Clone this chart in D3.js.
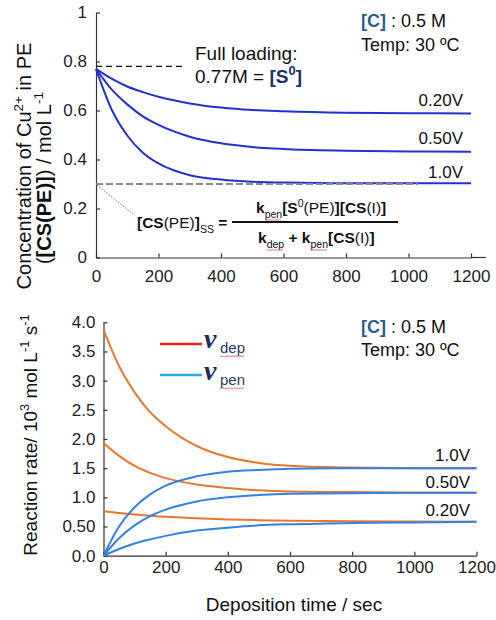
<!DOCTYPE html>
<html>
<head>
<meta charset="utf-8">
<script src="https://cdn.jsdelivr.net/npm/d3@7"></script>
<style>
  body { margin: 0; background: #fff; }
  svg { font-family: "Liberation Sans", Arial, Helvetica, sans-serif; }
  .axis .domain, .axis line { stroke: #333; stroke-width: 1.2; }
  .axis text { fill: #222; font-size: 17px; font-family: "Liberation Sans", Arial, sans-serif; }
</style>
</head>
<body>
<svg id="chart" width="496" height="620"></svg>
<script>
const times = [0, 50, 100, 150, 200, 300, 400, 500, 600, 800, 1000, 1200];
const voltages = ["0.20V", "0.50V", "1.0V"];

// top: [CS(PE)] / mol L-1
const conc020 = [0.77, 0.730, 0.698, 0.675, 0.656, 0.629, 0.612, 0.602, 0.597, 0.591, 0.589, 0.588];
const conc050 = [0.77, 0.686, 0.625, 0.576, 0.541, 0.493, 0.466, 0.451, 0.443, 0.436, 0.433, 0.432];
const conc100 = [0.77, 0.604, 0.498, 0.428, 0.384, 0.336, 0.318, 0.309, 0.306, 0.303, 0.303, 0.303];

// bottom: rates / 10^3 mol L-1 s-1
const dep020 = [0.76, 0.73, 0.705, 0.684, 0.667, 0.64, 0.622, 0.609, 0.60, 0.59, 0.585, 0.582];
const dep050 = [1.93, 1.71, 1.54, 1.42, 1.33, 1.22, 1.16, 1.12, 1.10, 1.09, 1.08, 1.08];
const dep100 = [3.87, 3.25, 2.80, 2.46, 2.22, 1.88, 1.69, 1.59, 1.54, 1.51, 1.50, 1.50];
const pen020 = [0, 0.115, 0.21, 0.28, 0.34, 0.43, 0.48, 0.52, 0.54, 0.56, 0.57, 0.58];
const pen050 = [0, 0.30, 0.52, 0.68, 0.79, 0.93, 1.00, 1.04, 1.06, 1.07, 1.08, 1.08];
const pen100 = [0, 0.50, 0.83, 1.05, 1.20, 1.36, 1.44, 1.47, 1.49, 1.50, 1.50, 1.50];

const xTicks = [0, 200, 400, 600, 800, 1000, 1200];
const yTicksTop = [0, 0.2, 0.4, 0.6, 0.8, 1];
const yLabelsTop = ["0", "0.2", "0.4", "0.6", "0.8", "1"];
const yTicksBot = [0, 0.5, 1, 1.5, 2, 2.5, 3, 3.5, 4];
const yLabelsBot = ["0.0", "0.50", "1.0", "1.5", "2.0", "2.5", "3.0", "3.5", "4.0"];

const fullLoading = 0.78;
const ssLevel = 0.30;

const svg = d3.select("#chart");
const squiggles = [];

// text with bold / sub / sup pieces
function rich(sel, x, y, size, parts, anchor = "start") {
  const text = sel.append("text").attr("x", x).attr("y", y)
    .style("font-size", size + "px").attr("text-anchor", anchor).style("fill", "#111");
  let shift = 0;
  parts.forEach(p => {
    const target = p.sub ? size * 0.3 : p.sup ? -size * 0.4 : 0;
    const ts = text.append("tspan").text(p.t).attr("dy", target - shift);
    shift = target;
    if (p.sub || p.sup) ts.style("font-size", (size * 0.68) + "px");
    if (p.b) ts.style("font-weight", "bold");
    if (p.fill) ts.style("fill", p.fill);
    if (p.sq) squiggles.push(ts.node());
  });
  return text;
}

// ---------- top panel ----------
const x1 = d3.scaleLinear().domain([0, 1200]).range([96, 471]);
const y1 = d3.scaleLinear().domain([0, 1]).range([257.5, 12.5]);

svg.append("g").attr("class", "axis")
  .attr("transform", `translate(0,${y1(0)})`)
  .call(d3.axisBottom(x1).tickValues(xTicks).tickFormat(d3.format("d"))
    .tickSizeInner(-4).tickSizeOuter(0).tickPadding(12));
svg.append("line").attr("x1", x1(1200)).attr("x2", 486).attr("y1", y1(0)).attr("y2", y1(0))
  .attr("stroke", "#333").attr("stroke-width", 1.2);
svg.append("g").attr("class", "axis")
  .attr("transform", `translate(${x1(0)},0)`)
  .call(d3.axisLeft(y1).tickValues(yTicksTop).tickFormat((d, i) => yLabelsTop[i])
    .tickSizeInner(-4).tickSizeOuter(0).tickPadding(9));

const lineTop = d3.line().x((d, i) => x1(times[i])).y(d => y1(d)).curve(d3.curveMonotoneX);
[conc020, conc050, conc100].forEach(s => {
  svg.append("path").attr("d", lineTop(s)).attr("fill", "none")
    .attr("stroke", "#2431d0").attr("stroke-width", 2);
});

// reference lines
svg.append("line").attr("x1", x1(0)).attr("x2", x1(280)).attr("y1", y1(fullLoading)).attr("y2", y1(fullLoading))
  .attr("stroke", "#111").attr("stroke-width", 1.3).attr("stroke-dasharray", "6,4");
svg.append("line").attr("x1", x1(0)).attr("x2", x1(1030)).attr("y1", y1(ssLevel)).attr("y2", y1(ssLevel))
  .attr("stroke", "#8a8a8a").attr("stroke-width", 1.8).attr("stroke-dasharray", "7,3");
svg.append("line").attr("x1", x1(0) + 1).attr("x2", 133).attr("y1", y1(ssLevel) + 1).attr("y2", 214)
  .attr("stroke", "#777").attr("stroke-width", 1).attr("stroke-dasharray", "1.5,1.5");

// curve labels
const topLabelY = [106, 144, 178];
voltages.forEach((v, i) => {
  svg.append("text").attr("x", 463).attr("y", topLabelY[i]).attr("text-anchor", "end")
    .style("font-size", "17px").style("fill", "#111").text(v);
});

rich(svg, 195, 60, 19, [{ t: "Full loading:" }]);
rich(svg, 195, 83, 19, [{ t: "0.77M = " }, { t: "[S", b: true, fill: "#1b2f6e" }, { t: "0", sup: true, b: true, fill: "#1b2f6e" }, { t: "]", b: true, fill: "#1b2f6e" }]);
rich(svg, 361, 27, 18, [{ t: "[C]", b: true, fill: "#2b5d8c" }, { t: " : 0.5 M" }]);
rich(svg, 361, 51, 18, [{ t: "Temp: 30 \u00BAC" }]);

// steady state formula
rich(svg, 137, 228, 15.5, [{ t: "[CS", b: true }, { t: "(PE)" }, { t: "]", b: true }, { t: "SS", sub: true }, { t: " =", b: true }]);
svg.append("line").attr("x1", 232).attr("x2", 398).attr("y1", 222).attr("y2", 222)
  .attr("stroke", "#111").attr("stroke-width", 2);
rich(svg, 256, 213, 15.5, [{ t: "k", b: true }, { t: "pen", sub: true, sq: true }, { t: "[S", b: true }, { t: "0", sup: true },
  { t: "(PE)" }, { t: "][CS", b: true }, { t: "(I)" }, { t: "]", b: true }]);
rich(svg, 258, 243, 15.5, [{ t: "k", b: true }, { t: "dep", sub: true, sq: true }, { t: " + k", b: true }, { t: "pen", sub: true, sq: true },
  { t: "[CS", b: true }, { t: "(I)" }, { t: "]", b: true }]);

// y title top
const yt1 = svg.append("g").attr("transform", "translate(31,166) rotate(-90)");
rich(yt1, 0, 0, 20, [{ t: "Concentration of Cu" }, { t: "2+", sup: true }, { t: " in PE" }], "middle");
const yt2 = svg.append("g").attr("transform", "translate(51,178) rotate(-90)");
rich(yt2, 0, 0, 20, [{ t: "(" }, { t: "[CS(PE)]", b: true }, { t: ") / mol L" }, { t: "-1", sup: true }], "middle");

// ---------- bottom panel ----------
const x2 = d3.scaleLinear().domain([0, 1200]).range([103.5, 476.5]);
const y2 = d3.scaleLinear().domain([0, 4]).range([555.7, 322.3]);

svg.append("g").attr("class", "axis")
  .attr("transform", `translate(0,${y2(0)})`)
  .call(d3.axisBottom(x2).tickValues(xTicks).tickFormat(d3.format("d"))
    .tickSizeInner(-4).tickSizeOuter(0).tickPadding(5));
svg.append("g").attr("class", "axis")
  .attr("transform", `translate(${x2(0)},0)`)
  .call(d3.axisLeft(y2).tickValues(yTicksBot).tickFormat((d, i) => yLabelsBot[i])
    .tickSizeInner(-4).tickSizeOuter(0).tickPadding(8));

const lineBot = d3.line().x((d, i) => x2(times[i])).y(d => y2(d)).curve(d3.curveMonotoneX);
[dep020, dep050, dep100].forEach(s => {
  svg.append("path").attr("d", lineBot(s)).attr("fill", "none")
    .attr("stroke", "#e8782c").attr("stroke-width", 2);
});
[pen020, pen050, pen100].forEach(s => {
  svg.append("path").attr("d", lineBot(s)).attr("fill", "none")
    .attr("stroke", "#3580e6").attr("stroke-width", 2);
});

const botLabelY = [516, 488, 461];
voltages.forEach((v, i) => {
  svg.append("text").attr("x", 470).attr("y", botLabelY[i]).attr("text-anchor", "end")
    .style("font-size", "17px").style("fill", "#111").text(v);
});

rich(svg, 361, 333, 18, [{ t: "[C]", b: true, fill: "#2b5d8c" }, { t: " : 0.5 M" }]);
rich(svg, 361, 356, 18, [{ t: "Temp: 30 \u00BAC" }]);

// legend
svg.append("line").attr("x1", 160).attr("x2", 202).attr("y1", 344).attr("y2", 344)
  .attr("stroke", "#e8211c").attr("stroke-width", 2.5);
svg.append("line").attr("x1", 160).attr("x2", 202).attr("y1", 375).attr("y2", 375)
  .attr("stroke", "#2aaee6").attr("stroke-width", 2.5);
[["dep", 348], ["pen", 380]].forEach(([s, yy]) => {
  svg.append("text").attr("x", 204).attr("y", yy).style("fill", "#1c2a5e")
    .style("font-family", "'Liberation Serif', 'DejaVu Serif', serif")
    .style("font-style", "italic").style("font-weight", "bold").style("font-size", "28px").text("v");
  const sub = svg.append("text").attr("x", 220).attr("y", yy + 5)
    .style("font-size", "15px").style("fill", "#2a3a66").text(s);
  squiggles.push(sub.node());
});

svg.append("text").attr("x", 294).attr("y", 611).attr("text-anchor", "middle")
  .style("font-size", "19px").style("fill", "#111").text("Deposition time / sec");

const yt3 = svg.append("g").attr("transform", "translate(37,435) rotate(-90)");
rich(yt3, 0, 0, 19, [{ t: "Reaction rate/ 10" }, { t: "3", sup: true }, { t: " mol L" }, { t: "-1", sup: true }, { t: " s" }, { t: "-1", sup: true }], "middle");

// spell-check squiggles
squiggles.forEach(n => {
  const b = n.getBBox();
  const pts = [];
  for (let xx = b.x, k = 0; xx <= b.x + b.width; xx += 1.5, k++) pts.push([xx, b.y + b.height + (k % 2 ? 0.8 : -0.2)]);
  svg.append("path").attr("d", d3.line()(pts)).attr("fill", "none")
    .attr("stroke", "#e03030").attr("stroke-width", 0.7);
});
</script>
</body>
</html>
